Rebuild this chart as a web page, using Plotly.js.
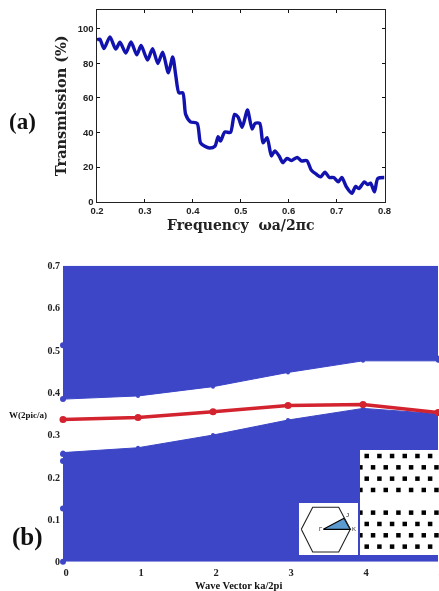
<!DOCTYPE html>
<html><head><meta charset="utf-8">
<script src="https://cdn.plot.ly/plotly-3.0.1.min.js"></script>
<style>html,body{margin:0;padding:0;background:#fff}#c{width:439px;height:591px;filter:blur(0.35px)}</style></head>
<body><div id="c"></div>
<script>
// Panel (a)
const freq=[0.2,0.206,0.2146,0.227,0.239,0.248,0.26,0.271,0.283,0.292,0.3055,0.316,0.327,0.337,0.349,0.358,0.3646,0.371,0.379,0.385,0.395,0.409,0.416,0.425,0.435,0.446,0.4528,0.4576,0.4667,0.4785,0.487,0.4944,0.503,0.514,0.5236,0.53,0.5396,0.5465,0.555,0.564,0.571,0.58,0.588,0.5965,0.6056,0.618,0.6264,0.638,0.647,0.6576,0.6667,0.6757,0.685,0.694,0.7035,0.711,0.72,0.732,0.7396,0.7465,0.758,0.765,0.771,0.779,0.786,0.8];
const trans=[93.8,94,88.6,95.4,88.4,92.3,86,92.5,85,90.4,82,88.6,80,86.5,74.6,83.8,72.6,63,63,50.5,46.2,45.3,34,32,31,32,37.6,35,40.3,40,50.5,49,43,53,42,45.3,45.3,34,37,26.4,29.3,26.4,22.5,25,23.7,25.6,23.5,23.7,18.3,15.8,14.3,17,13.9,13.9,11.4,13.9,8.7,4.8,8.7,7.5,11.4,9.8,10.6,5.6,13.3,13.9];
// Panel (b)
const waveK=[0,1,2,3,4,5];
const bandLower=[0.258,0.2695,0.2995,0.335,0.3625,0.35];
const bandUpper=[0.3845,0.392,0.414,0.4476,0.475,0.475];
const defectMode=[0.3365,0.341,0.3546,0.3696,0.372,0.353];
const ceiling=[0.7,0.7,0.7,0.7,0.7,0.7];
const edgeX=[0,0,0,0,0,0,5];
const edgeY=[0,0.126,0.238,0.2545,0.3845,0.512,0.48];
// Insets
const latticeRows=[0,1,2,3,5,6,7,8];
const latticeShift=[0,1,0,1,1,0,1,0];
const hexX=[301.3,312.7,338.7,350.3,338.7,312.7,301.3];
const hexY=[529.3,507.3,507.3,529.3,552,552,529.3];
const wedgeX=[323.3,344,350.3,323.3];
const wedgeY=[529.3,518.3,529.3,529.3];

const W=439,H=591;
const blue='#3c46c6', red='#d2232f';
const serif='"Liberation Serif",serif', sans='"Liberation Sans",sans-serif';
const px=(a,b)=>[a/W,b/W], py=(t,b)=>[1-b/H,1-t/H];

const latX=[],latY=[];
latticeRows.forEach((r,i)=>{
  const cols=latticeShift[i]?[-0.5,0.5,1.5,2.5,3.5,4.5,5.5]:[0,1,2,3,4,5];
  cols.forEach(c=>{latX.push(c);latY.push(r);});
});

const traces=[
 {x:freq,y:trans,mode:'lines',line:{color:'#1212ae',width:3.4,shape:'spline',smoothing:0.7},xaxis:'x',yaxis:'y'},
 {x:waveK,y:bandLower,mode:'lines+markers',fill:'tozeroy',fillcolor:blue,line:{color:blue,width:1},marker:{color:blue,size:4},xaxis:'x2',yaxis:'y2',cliponaxis:false},
 {x:waveK,y:ceiling,mode:'lines',line:{color:blue,width:0},xaxis:'x2',yaxis:'y2'},
 {x:waveK,y:bandUpper,mode:'lines+markers',fill:'tonexty',fillcolor:blue,line:{color:blue,width:1},marker:{color:blue,size:4},xaxis:'x2',yaxis:'y2',cliponaxis:false},
 {x:edgeX,y:edgeY,mode:'markers',marker:{color:blue,size:6},xaxis:'x2',yaxis:'y2',cliponaxis:false},
 {x:waveK,y:defectMode,mode:'lines+markers',line:{color:red,width:3.5},marker:{color:red,size:7},xaxis:'x2',yaxis:'y2',cliponaxis:false},
 {x:[-0.53,5.7,5.7,-0.53],y:[-0.53,-0.53,8.74,8.74],mode:'none',fill:'toself',fillcolor:'#fff',xaxis:'x3',yaxis:'y3'},
 {x:latX,y:latY,mode:'markers',marker:{symbol:'square',color:'#000',size:4.5},xaxis:'x3',yaxis:'y3'},
 {x:[299,358,358,299],y:[503,503,555,555],mode:'none',fill:'toself',fillcolor:'#fff',xaxis:'x4',yaxis:'y4'},
 {x:wedgeX,y:wedgeY,mode:'lines',fill:'toself',fillcolor:'#5b9bd0',line:{color:'#000',width:1.2},xaxis:'x4',yaxis:'y4'},
 {x:hexX,y:hexY,mode:'lines',line:{color:'#222',width:1.1},xaxis:'x4',yaxis:'y4'}
];
const hidden={visible:false,fixedrange:true};
const annot=(text,x,y,family,size)=>({text,xref:'paper',yref:'paper',x:x/W,y:1-y/H,xanchor:'center',yanchor:'middle',showarrow:false,font:{family,size,color:'#111'}});
const layout={
 width:W,height:H,margin:{l:0,r:0,t:0,b:0},paper_bgcolor:'#fff',plot_bgcolor:'rgba(0,0,0,0)',showlegend:false,
 font:{family:sans,color:'#111'},
 xaxis:{domain:px(97,384.5),range:[0.2,0.8],tickvals:[0.2,0.3,0.4,0.5,0.6,0.7,0.8],ticktext:['0.2','0.3','0.4','0.5','0.6','0.7','0.8'],
   ticks:'inside',ticklen:3,tickcolor:'#111',showline:true,linecolor:'#222',linewidth:1.5,mirror:'ticks',showgrid:false,zeroline:false,
   tickfont:{family:sans,size:9.5,color:'#222',weight:700},anchor:'y',
   title:{text:'<b>Frequency  ωa/2πc</b>',font:{family:'"DejaVu Serif",serif',size:14,color:'#222'},standoff:5}},
 yaxis:{domain:py(10,201.5),range:[0,111],tickvals:[0,20,40,60,80,100],ticktext:['0','20','40','60','80','100'],
   ticks:'inside',ticklen:3,tickcolor:'#111',showline:true,linecolor:'#222',linewidth:1.5,mirror:'ticks',showgrid:false,zeroline:false,
   tickfont:{family:sans,size:9.5,color:'#222',weight:700},anchor:'x',
   title:{text:'<b>Transmission (%)</b>',font:{family:'"DejaVu Serif",serif',size:14.5,color:'#222'},standoff:7}},
 xaxis2:{domain:px(63,438),range:[0,5],tickvals:waveK,ticktext:waveK.map(String),ticks:'',showline:false,showgrid:false,zeroline:false,
   tickfont:{family:serif,size:10.5,color:'#222',weight:700},anchor:'y2',ticklabelstandoff:3,ticklabelshift:3,ticklabeloverflow:'allow'},
 yaxis2:{domain:py(265.7,561.7),range:[0,0.7],tickvals:[0,0.1,0.2,0.3,0.4,0.5,0.6,0.7],ticktext:['0','0.1','0.2','0.3','0.4','0.5','0.6','0.7'],ticks:'',showline:false,showgrid:false,zeroline:false,
   tickfont:{family:serif,size:10,color:'#222',weight:700},anchor:'x2',ticklabelstandoff:2},
 xaxis3:Object.assign({domain:px(360,439),range:[-0.53,5.7],anchor:'y3'},hidden),
 yaxis3:Object.assign({domain:py(450,555),range:[8.74,-0.53],anchor:'x3'},hidden),
 xaxis4:Object.assign({domain:px(299,358),range:[299,358],anchor:'y4'},hidden),
 yaxis4:Object.assign({domain:py(503,555),range:[555,503],anchor:'x4'},hidden),
 annotations:[
  annot('<b>(a)</b>',22.5,121,serif,23),
  annot('<b>(b)</b>',27,537,serif,25),
  annot('<b>W(2pic/a)</b>',28,415,serif,9),
  annot('<b>Wave Vector ka/2pi</b>',238.5,585,serif,10.5),
  {text:'Γ',xref:'x4',yref:'y4',x:320.5,y:529,xanchor:'center',yanchor:'middle',showarrow:false,font:{family:sans,size:6,color:'#222'}},
  {text:'J',xref:'x4',yref:'y4',x:347.5,y:515,xanchor:'center',yanchor:'middle',showarrow:false,font:{family:sans,size:6,color:'#222'}},
  {text:'K',xref:'x4',yref:'y4',x:354,y:529,xanchor:'center',yanchor:'middle',showarrow:false,font:{family:sans,size:6,color:'#222'}}
 ]
};
Plotly.newPlot('c',traces,layout,{staticPlot:true,displayModeBar:false});
</script></body></html>
